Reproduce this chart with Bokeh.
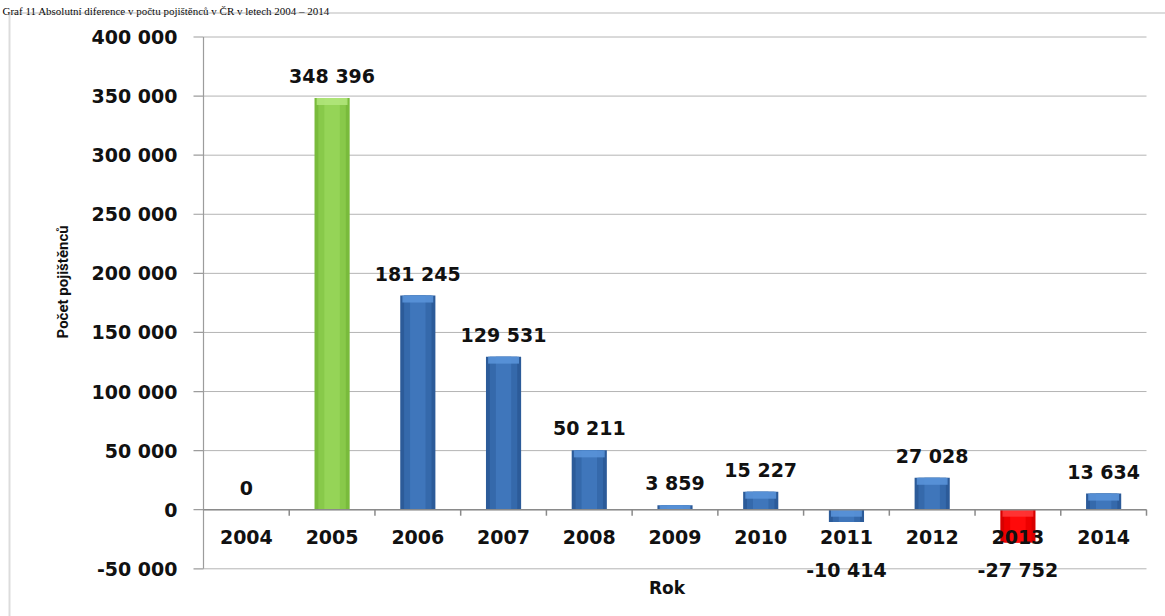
from bokeh.plotting import figure
from bokeh.models import (ColumnDataSource, Range1d, LabelSet, Label, BoxAnnotation)
from bokeh.core.properties import value
from bokeh.embed import file_html
from bokeh.resources import INLINE
import math

# ---- data ----
years = ["2004", "2005", "2006", "2007", "2008", "2009", "2010", "2011", "2012", "2013", "2014"]
values = [0, 348396, 181245, 129531, 50211, 3859, 15227, -10414, 27028, -27752, 13634]
y_ticks = [-50000, 0, 50000, 100000, 150000, 200000, 250000, 300000, 350000, 400000]
highlight = {"2005": "green", "2013": "red"}

title = "Graf 11 Absolutní diference v počtu pojištěnců v ČR v letech 2004 – 2014"
x_title = "Rok"
y_title = "Počet pojištěnců"

# ---- styles ----
palette = {  # edge, mid, centre, bevel
    "blue": ("#2c5b99", "#3569ab", "#3f76bb", "#5b95da"),
    "green": ("#79bb3c", "#88c94a", "#95d457", "#b3e67c"),
    "red": ("#d80000", "#ee0000", "#ff0a0a", "#ff3a3a"),
}
FONT = "DejaVu Sans"
W, H = 1165, 616
y_min, y_max = y_ticks[0], y_ticks[-1]
n = len(years)
idx = list(range(n))
x_left, x_right = -0.5, n - 0.5

# plot area geometry (pixels on the page)
PL, PR, PT, PB = 203, 1146, 36.5, 568.3
ux = (PR - PL) / n
uy = (PB - PT) / (y_max - y_min)
bevel = 7 / uy  # bevel depth of the bar tops, in data units


def fmt(v):
    return f"{v:,}".replace(",", " ")


kinds = [highlight.get(y, "blue") for y in years]
src = ColumnDataSource(dict(
    x=idx, val=values,
    c0=[palette[k][0] for k in kinds],
    c1=[palette[k][1] for k in kinds],
    c2=[palette[k][2] for k in kinds],
    c3=[palette[k][3] for k in kinds],
    cap_top=[v if v >= 0 else 0 for v in values],
    cap_bot=[max(v - bevel, 0) if v >= 0 else max(v, -bevel) for v in values],
))
pos_src = ColumnDataSource(dict(x=[i for i, v in zip(idx, values) if v >= 0],
                                y=[v for v in values if v >= 0],
                                label=[fmt(v) for v in values if v >= 0]))
neg_src = ColumnDataSource(dict(x=[i for i, v in zip(idx, values) if v < 0],
                                y=[y_min for v in values if v < 0],
                                label=[fmt(v) for v in values if v < 0]))
cat_src = ColumnDataSource(dict(x=idx, y=[0] * n, label=years,
                                xb=[i + 0.5 for i in idx]))
tick_src = ColumnDataSource(dict(x=[x_left] * len(y_ticks), x1=[x_right] * len(y_ticks),
                                 y=y_ticks, label=[fmt(t) for t in y_ticks]))

x_range = Range1d(x_left - PL / ux, x_right + (W - PR) / ux)
y_range = Range1d(y_min - (H - PB) / uy, y_max + PT / uy)

p = figure(width=W, height=H, output_backend="svg", toolbar_location=None,
           x_range=x_range, y_range=y_range,
           x_axis_location=None, y_axis_location=None,
           min_border=0)
p.outline_line_color = None
p.background_fill_color = "white"
p.border_fill_color = "white"
p.grid.visible = False

# horizontal gridlines
p.segment(x0="x", x1="x1", y0="y", y1="y", source=tick_src,
          line_color="#b4b4b4", line_width=1)

# bars (layered for a soft cylinder-like shading, with a light bevel on top)
p.vbar(x="x", top="val", bottom=0, width=0.41, source=src, fill_color="c0", line_color=None)
p.vbar(x="x", top="val", bottom=0, width=0.32, source=src, fill_color="c1", line_color=None)
p.vbar(x="x", top="val", bottom=0, width=0.18, source=src, fill_color="c2", line_color=None)
p.vbar(x="x", top="cap_top", bottom="cap_bot", width=0.36, source=src,
       fill_color="c3", fill_alpha=0.85, line_color=None)

# value axis: line, ticks, labels
p.segment(x0=x_left, x1=x_left, y0=y_min, y1=y_max, line_color="#9c9c9c", line_width=1.2)
p.ray(x="x", y="y", source=tick_src, length=10, length_units="screen", angle=math.pi,
      line_color="#9c9c9c", line_width=1.2)

# category axis at zero with tick marks between categories
p.segment(x0=x_left, x1=x_right, y0=0, y1=0, line_color="#8a8a8a", line_width=1.5)
p.ray(x="xb", y="y", source=cat_src, length=6, length_units="screen", angle=-math.pi / 2,
      line_color="#8a8a8a", line_width=1.5)

common = dict(text_font=value(FONT), text_font_style="bold", text_font_size="19px",
              text_color="#111111", text_baseline="middle")
p.add_layout(LabelSet(x="x", y="y", text="label", source=tick_src, x_offset=-26,
                      text_align="right", **common))
p.add_layout(LabelSet(x="x", y="y", text="label", source=pos_src, y_offset=22,
                      text_align="center", **common))
p.add_layout(LabelSet(x="x", y="y", text="label", source=neg_src, y_offset=-1,
                      text_align="center", **common))
p.add_layout(LabelSet(x="x", y="y", text="label", source=cat_src, y_offset=-27,
                      text_align="center", **common))

# axis titles
p.add_layout(Label(x=(n - 1) / 2, y=y_min, x_offset=-8, y_offset=-19, text=x_title,
                   text_font=FONT, text_font_style="bold", text_font_size="17px",
                   text_color="#111111", text_align="center", text_baseline="middle"))
p.add_layout(Label(x=x_left, y=(y_min + y_max) / 2, x_offset=-141, y_offset=21,
                   angle=math.pi / 2, text=y_title,
                   text_font="Roboto", text_font_style="bold", text_font_size="15px",
                   text_color="#111111", text_align="center", text_baseline="middle"))

# document caption above the chart
p.add_layout(Label(x=2, y=H - 10, x_units="screen", y_units="screen", text=title,
                   text_font="Liberation Serif", text_font_size="11px",
                   text_color="#000000", text_align="left", text_baseline="alphabetic"))

# outer chart border (continues past the right/bottom edges)
p.add_layout(BoxAnnotation(left=9, right=W + 50, top=H - 12.5, bottom=-50,
                           left_units="screen", right_units="screen",
                           top_units="screen", bottom_units="screen",
                           fill_alpha=0, line_color="#8a8a8a", line_width=2))

open("out.html", "w").write(file_html(p, INLINE))
